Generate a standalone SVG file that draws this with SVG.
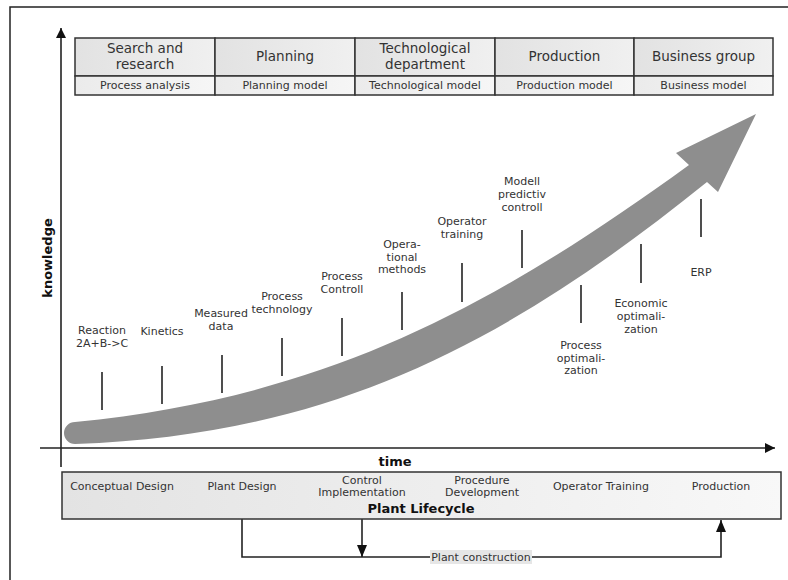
<svg xmlns="http://www.w3.org/2000/svg" width="788" height="580" viewBox="0 0 788 580">
<defs>
<style>
.t{font-family:"DejaVu Sans",Verdana,sans-serif;fill:#333;text-anchor:middle}
.h{font-size:13.5px}
.s{font-size:11px}
.l{font-size:11px}
.b{font-family:"DejaVu Sans",Verdana,sans-serif;font-weight:bold;fill:#111;text-anchor:middle;font-size:13px}
.cell{fill:url(#hg);stroke:#333;stroke-width:1.5}
.sub{fill:url(#sg);stroke:#333;stroke-width:1.5}
.tick{stroke:#222;stroke-width:1.6}
.ln{stroke:#222;stroke-width:1.6;fill:none}
</style>
<linearGradient id="hg" x1="0" y1="0" x2="1" y2="0">
<stop offset="0" stop-color="#e2e2e2"/><stop offset="1" stop-color="#f0f0f0"/>
</linearGradient>
<linearGradient id="sg" x1="0" y1="0" x2="1" y2="0">
<stop offset="0" stop-color="#ebebeb"/><stop offset="1" stop-color="#f6f6f6"/>
</linearGradient>
<linearGradient id="bg" x1="0" y1="0" x2="1" y2="0">
<stop offset="0" stop-color="#e3e3e3"/><stop offset="1" stop-color="#f8f8f8"/>
</linearGradient>
<marker id="ah" viewBox="0 0 10 10" refX="10" refY="5" markerWidth="10" markerHeight="10" markerUnits="userSpaceOnUse" orient="auto">
<path d="M0,0 L10,5 L0,10 Z" fill="#111"/>
</marker>
<marker id="ah2" viewBox="0 0 12 10" refX="12" refY="5" markerWidth="13" markerHeight="10" markerUnits="userSpaceOnUse" orient="auto">
<path d="M0,0 L12,5 L0,10 Z" fill="#111"/>
</marker>
</defs>
<rect width="788" height="580" fill="#fff"/>
<path d="M10,580 V7 H788" fill="none" stroke="#222" stroke-width="1.5"/>

<g id="table">
<g id="col1"><rect class="cell" x="75" y="38" width="140" height="38"/><rect class="sub" x="75" y="76" width="140" height="19"/>
<text class="t h" x="145" y="52.5">Search and</text><text class="t h" x="145" y="68.5">research</text><text class="t s" x="145" y="89">Process analysis</text></g>
<g id="col2"><rect class="cell" x="215" y="38" width="140" height="38"/><rect class="sub" x="215" y="76" width="140" height="19"/>
<text class="t h" x="285" y="61">Planning</text><text class="t s" x="285" y="89">Planning model</text></g>
<g id="col3"><rect class="cell" x="355" y="38" width="140" height="38"/><rect class="sub" x="355" y="76" width="140" height="19"/>
<text class="t h" x="425" y="52.5">Technological</text><text class="t h" x="425" y="68.5">department</text><text class="t s" x="425" y="89">Technological model</text></g>
<g id="col4"><rect class="cell" x="495" y="38" width="139" height="38"/><rect class="sub" x="495" y="76" width="139" height="19"/>
<text class="t h" x="564.5" y="61">Production</text><text class="t s" x="564.5" y="89">Production model</text></g>
<g id="col5"><rect class="cell" x="634" y="38" width="139" height="38"/><rect class="sub" x="634" y="76" width="139" height="19"/>
<text class="t h" x="703.5" y="61">Business group</text><text class="t s" x="703.5" y="89">Business model</text></g>
</g>

<g id="bigarrow">
<path d="M75,422 C325,397 489,310 689,165 L676,153 L756,114 L718,192 L707,182 C505,345 330,435 75,444 A11,11 0 0 1 75,422 Z" fill="#8e8e8e"/>
</g>

<g id="connectors">
<line class="ln" x1="61" y1="467" x2="61" y2="28" marker-end="url(#ah)"/>
<line class="ln" x1="40" y1="448" x2="775" y2="448" marker-end="url(#ah)"/>
<path class="ln" d="M242,519 V557 H721 V520" marker-end="url(#ah2)"/>
<line class="ln" x1="362" y1="519" x2="362" y2="557" marker-end="url(#ah2)"/>
</g>

<g id="axislabels">
<text class="b" transform="translate(52,258) rotate(-90)">knowledge</text>
<text class="b" x="395" y="466">time</text>
</g>

<g id="n-reaction"><line class="tick" x1="102" y1="372" x2="102" y2="410"/><text class="t l" x="102" y="334">Reaction</text><text class="t l" x="102" y="347">2A+B-&gt;C</text></g>
<g id="n-kinetics"><line class="tick" x1="162" y1="366" x2="162" y2="404"/><text class="t l" x="162" y="335">Kinetics</text></g>
<g id="n-measured"><line class="tick" x1="222" y1="355" x2="222" y2="393"/><text class="t l" x="221" y="317">Measured</text><text class="t l" x="221" y="330">data</text></g>
<g id="n-proctech"><line class="tick" x1="282" y1="338" x2="282" y2="376"/><text class="t l" x="282" y="300">Process</text><text class="t l" x="282" y="313">technology</text></g>
<g id="n-procctrl"><line class="tick" x1="342" y1="318" x2="342" y2="356"/><text class="t l" x="342" y="280">Process</text><text class="t l" x="342" y="293">Controll</text></g>
<g id="n-opmeth"><line class="tick" x1="402" y1="292" x2="402" y2="330"/><text class="t l" x="402" y="248">Opera-</text><text class="t l" x="402" y="261">tional</text><text class="t l" x="402" y="273">methods</text></g>
<g id="n-optrain"><line class="tick" x1="462" y1="263" x2="462" y2="302"/><text class="t l" x="462" y="225">Operator</text><text class="t l" x="462" y="238">training</text></g>
<g id="n-mpc"><line class="tick" x1="522" y1="230" x2="522" y2="268"/><text class="t l" x="522" y="185">Modell</text><text class="t l" x="522" y="198">predictiv</text><text class="t l" x="522" y="211">controll</text></g>
<g id="n-procopt"><line class="tick" x1="581" y1="285" x2="581" y2="323"/><text class="t l" x="581" y="349">Process</text><text class="t l" x="581" y="362">optimali-</text><text class="t l" x="581" y="374">zation</text></g>
<g id="n-econopt"><line class="tick" x1="641" y1="244" x2="641" y2="283"/><text class="t l" x="641" y="307">Economic</text><text class="t l" x="641" y="320">optimali-</text><text class="t l" x="641" y="333">zation</text></g>
<g id="n-erp"><line class="tick" x1="701" y1="199" x2="701" y2="237"/><text class="t l" x="701" y="276">ERP</text></g>

<g id="lifecycle">
<rect x="62" y="472" width="719" height="47" fill="url(#bg)" stroke="#333" stroke-width="1.5"/>
<text class="t l" x="122" y="490">Conceptual Design</text>
<text class="t l" x="242" y="490">Plant Design</text>
<text class="t l" x="362" y="484">Control</text><text class="t l" x="362" y="496">Implementation</text>
<text class="t l" x="482" y="484">Procedure</text><text class="t l" x="482" y="496">Development</text>
<text class="t l" x="601" y="490">Operator Training</text>
<text class="t l" x="721" y="490">Production</text>
<text class="b" x="421" y="512.5">Plant Lifecycle</text>
</g>

<g id="construction">
<rect x="430" y="550" width="102" height="14" fill="#e6e6e6"/>
<text class="t l" x="481" y="561">Plant construction</text>
</g>
</svg>
